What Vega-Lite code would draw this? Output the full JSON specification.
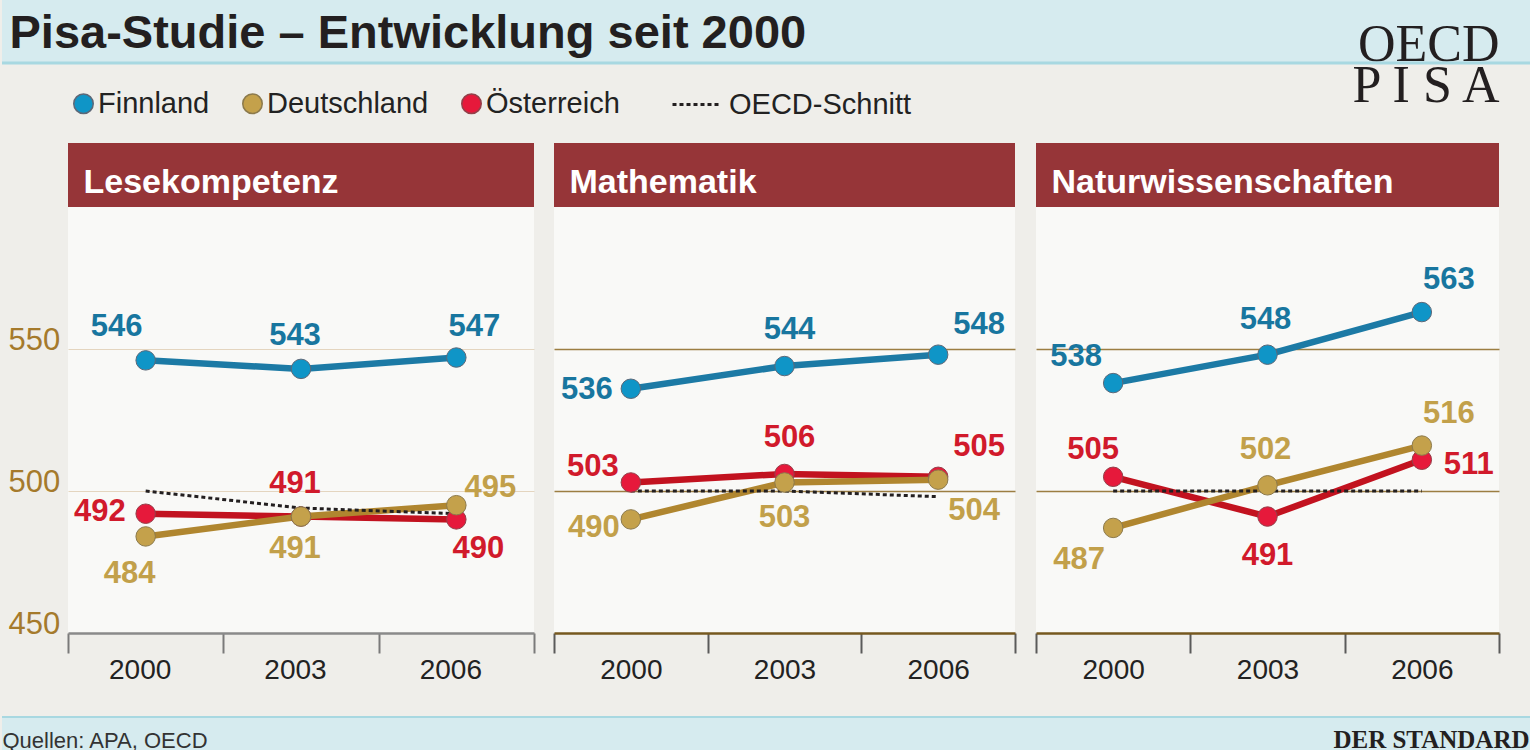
{
  "$schema": "https://vega.github.io/schema/vega-lite/v6.json",
  "background": "#efeeea",
  "padding": 0,
  "spacing": 0,
  "datasets": {
    "pisa": [
      {"Fach": "Lesekompetenz", "Serie": "Finnland", "Jahr": "2000", "Punkte": 546},
      {"Fach": "Lesekompetenz", "Serie": "Finnland", "Jahr": "2003", "Punkte": 543},
      {"Fach": "Lesekompetenz", "Serie": "Finnland", "Jahr": "2006", "Punkte": 547},
      {"Fach": "Lesekompetenz", "Serie": "Österreich", "Jahr": "2000", "Punkte": 492},
      {"Fach": "Lesekompetenz", "Serie": "Österreich", "Jahr": "2003", "Punkte": 491},
      {"Fach": "Lesekompetenz", "Serie": "Österreich", "Jahr": "2006", "Punkte": 490},
      {"Fach": "Lesekompetenz", "Serie": "Deutschland", "Jahr": "2000", "Punkte": 484},
      {"Fach": "Lesekompetenz", "Serie": "Deutschland", "Jahr": "2003", "Punkte": 491},
      {"Fach": "Lesekompetenz", "Serie": "Deutschland", "Jahr": "2006", "Punkte": 495},
      {"Fach": "Lesekompetenz", "Serie": "OECD-Schnitt", "Jahr": "2000", "Punkte": 500},
      {"Fach": "Lesekompetenz", "Serie": "OECD-Schnitt", "Jahr": "2003", "Punkte": 494},
      {"Fach": "Lesekompetenz", "Serie": "OECD-Schnitt", "Jahr": "2006", "Punkte": 492},
      {"Fach": "Mathematik", "Serie": "Finnland", "Jahr": "2000", "Punkte": 536},
      {"Fach": "Mathematik", "Serie": "Finnland", "Jahr": "2003", "Punkte": 544},
      {"Fach": "Mathematik", "Serie": "Finnland", "Jahr": "2006", "Punkte": 548},
      {"Fach": "Mathematik", "Serie": "Österreich", "Jahr": "2000", "Punkte": 503},
      {"Fach": "Mathematik", "Serie": "Österreich", "Jahr": "2003", "Punkte": 506},
      {"Fach": "Mathematik", "Serie": "Österreich", "Jahr": "2006", "Punkte": 505},
      {"Fach": "Mathematik", "Serie": "Deutschland", "Jahr": "2000", "Punkte": 490},
      {"Fach": "Mathematik", "Serie": "Deutschland", "Jahr": "2003", "Punkte": 503},
      {"Fach": "Mathematik", "Serie": "Deutschland", "Jahr": "2006", "Punkte": 504},
      {"Fach": "Mathematik", "Serie": "OECD-Schnitt", "Jahr": "2000", "Punkte": 500},
      {"Fach": "Mathematik", "Serie": "OECD-Schnitt", "Jahr": "2003", "Punkte": 500},
      {"Fach": "Mathematik", "Serie": "OECD-Schnitt", "Jahr": "2006", "Punkte": 498},
      {"Fach": "Naturwissenschaften", "Serie": "Finnland", "Jahr": "2000", "Punkte": 538},
      {"Fach": "Naturwissenschaften", "Serie": "Finnland", "Jahr": "2003", "Punkte": 548},
      {"Fach": "Naturwissenschaften", "Serie": "Finnland", "Jahr": "2006", "Punkte": 563},
      {"Fach": "Naturwissenschaften", "Serie": "Österreich", "Jahr": "2000", "Punkte": 505},
      {"Fach": "Naturwissenschaften", "Serie": "Österreich", "Jahr": "2003", "Punkte": 491},
      {"Fach": "Naturwissenschaften", "Serie": "Österreich", "Jahr": "2006", "Punkte": 511},
      {"Fach": "Naturwissenschaften", "Serie": "Deutschland", "Jahr": "2000", "Punkte": 487},
      {"Fach": "Naturwissenschaften", "Serie": "Deutschland", "Jahr": "2003", "Punkte": 502},
      {"Fach": "Naturwissenschaften", "Serie": "Deutschland", "Jahr": "2006", "Punkte": 516},
      {"Fach": "Naturwissenschaften", "Serie": "OECD-Schnitt", "Jahr": "2000", "Punkte": 500},
      {"Fach": "Naturwissenschaften", "Serie": "OECD-Schnitt", "Jahr": "2003", "Punkte": 500},
      {"Fach": "Naturwissenschaften", "Serie": "OECD-Schnitt", "Jahr": "2006", "Punkte": 500}
    ]
  },
  "vconcat": [
    {
      "width": 1530,
      "height": 63,
      "view": {"fill": "#d6ebef", "stroke": null},
      "data": {"values": [{}]},
      "layer": [
        {
          "mark": {"type": "rule", "color": "#a8d8e1", "strokeWidth": 3},
          "encoding": {
            "y": {"datum": 0, "type": "quantitative", "scale": {"domain": [0, 1]},
              "axis": {"orient": "right", "domain": false, "ticks": false, "labels": false, "grid": false,
                "title": ["OECD", "P I S A"], "titleAngle": 0, "titleAlign": "right", "titleBaseline": "alphabetic",
                "titleX": -33, "titleY": 60, "titleFont": "Liberation Serif", "titleFontSize": 52,
                "titleFontWeight": "normal", "titleColor": "#231f20", "titleLineHeight": 41}}
          }
        },
        {
          "mark": {"type": "text", "text": ""},
          "encoding": {
            "x": {"datum": 0, "type": "quantitative", "scale": {"domain": [0, 1]},
              "axis": {"orient": "top", "domain": false, "ticks": false, "labels": false, "grid": false,
                "title": "Pisa-Studie – Entwicklung seit 2000", "titleX": 7, "titleY": 47, "titleAlign": "left", "titleBaseline": "alphabetic",
                "titleFont": "Liberation Sans", "titleFontSize": 47, "titleFontWeight": "bold", "titleColor": "#231f20"}}
          }
        }
      ]
    },
    {
      "width": 1530,
      "height": 26,
      "data": {"values": [{}]},
      "mark": {"type": "text", "text": ""}
    },
    {
      "spacing": 0,
      "hconcat": [
        {
          "width": 1,
          "height": 1,
          "data": {"values": [{}]},
          "mark": {"type": "text", "text": ""}
        },
        {
          "spacing": 0,
          "bounds": "flush",
          "vconcat": [
            {
              "width": 466, "height": 64,
              "view": {"fill": "#963538", "stroke": null},
              "data": {"values": [{}]},
              "mark": {"type": "text", "text": ""},
              "encoding": {"x": {"datum": 0, "type": "quantitative", "scale": {"domain": [0, 1]},
                "axis": {"orient": "top", "domain": false, "ticks": false, "labels": false, "grid": false, "title": "Lesekompetenz", "titleX": 15, "titleY": 49, "titleAlign": "left", "titleBaseline": "alphabetic", "titleFont": "Liberation Sans", "titleFontSize": 34, "titleFontWeight": "bold", "titleColor": "#ffffff"}}}
            },
            {
              "width": 466, "height": 426,
              "view": {"fill": "#f9f9f7", "stroke": null},
              "data": {"name": "pisa"},
              "transform": [{"filter": "datum.Fach === 'Lesekompetenz'"}],
              "encoding": {
                "x": {"field": "Jahr", "type": "ordinal",
                  "scale": {"type": "band", "domain": ["2000", "2003", "2006"], "paddingInner": 0, "paddingOuter": 0},
                  "axis": {"title": null, "labelAngle": 0, "tickBand": "extent", "tickSize": 20, "tickColor": "#7a7a7a", "tickWidth": 2, "domainColor": "#8a8a8a", "domainWidth": 2.5, "labelFont": "Liberation Sans", "labelFontSize": 28, "labelColor": "#222222", "labelPadding": 3, "labelOffset": -6, "grid": false, "minExtent": 83, "maxExtent": 83}},
                "y": {"field": "Punkte", "type": "quantitative",
                  "scale": {"domain": [450, 600], "zero": false, "nice": false},
                  "axis": {"title": null, "values": [450, 500, 550], "domain": false, "ticks": false, "tickSize": 0, "grid": true, "gridColor": "#e4d5bf", "gridWidth": 1.2, "labelAlign": "left", "labelBaseline": "alphabetic", "labelPadding": 60, "labelFont": "Liberation Sans", "labelFontSize": 31, "labelColor": "#a57a2c", "minExtent": 65, "maxExtent": 65}}
              },
              "layer": [
                {"transform": [{"filter": "datum.Serie !== 'OECD-Schnitt'"}],
                  "mark": {"type": "line", "strokeWidth": 6.5, "strokeCap": "round"},
                  "encoding": {"color": {"field": "Serie", "type": "nominal", "scale": {"domain": ["Österreich", "Deutschland", "Finnland"], "range": ["#c2121f", "#b0862f", "#1c7aa5"]}, "legend": null}}},
                {"transform": [{"filter": "datum.Serie === 'OECD-Schnitt'"}],
                  "mark": {"type": "line", "color": "#231f20", "strokeWidth": 3},
                  "encoding": {"strokeDash": {"field": "Serie", "type": "nominal", "scale": {"domain": ["OECD-Schnitt"], "range": [[4, 3]]},
                    "legend": {"title": null, "orient": "none", "legendX": 669, "legendY": 79, "padding": 0, "symbolType": "stroke", "symbolSize": 2304,
                      "symbolStrokeWidth": 3, "symbolStrokeColor": "#231f20", "symbolDash": [3, 2],
                      "labelFont": "Liberation Sans", "labelFontSize": 29, "labelColor": "#222222", "labelOffset": 7, "labelLimit": 400}}}},
                {"transform": [{"filter": "datum.Serie !== 'OECD-Schnitt'"}],
                  "mark": {"type": "point", "filled": true, "size": 380, "opacity": 1, "strokeWidth": 1},
                  "encoding": {
                    "fill": {"field": "Serie", "type": "nominal",
                      "scale": {"domain": ["Finnland", "Deutschland", "Österreich"], "range": ["#0f95c7", "#c4a14b", "#e6193b"]},
                      "legend": {"title": null, "orient": "none", "legendX": 67, "legendY": 89, "direction": "horizontal", "padding": 0,
                        "symbolSize": 380, "symbolType": "circle", "labelFont": "Liberation Sans", "labelFontSize": 29, "labelColor": "#222222",
                        "labelOffset": 0, "columnPadding": 28, "labelLimit": 400}},
                    "stroke": {"field": "Serie", "type": "nominal",
                      "scale": {"domain": ["Finnland", "Deutschland", "Österreich"], "range": ["#5d6878", "#8c7a4c", "#94404a"]},
                      "legend": {"title": null, "orient": "none", "legendX": 67, "legendY": 89, "direction": "horizontal", "padding": 0,
                        "symbolSize": 380, "symbolType": "circle", "labelFont": "Liberation Sans", "labelFontSize": 29, "labelColor": "#222222",
                        "labelOffset": 0, "columnPadding": 28, "labelLimit": 400}}
                  }},
                {
                  "encoding": {
                    "text": {"field": "Punkte", "type": "quantitative"},
                    "color": {"condition": [{"test": "datum.Serie === 'Finnland'", "value": "#18769f"}, {"test": "datum.Serie === 'Deutschland'", "value": "#c2a04a"}], "value": "#d11a2b"}
                  },
                  "layer": [
                    {"transform": [{"filter": "datum.Serie === 'Finnland' && datum.Jahr === '2000'"}],
                      "mark": {"type": "text", "font": "Liberation Sans", "fontWeight": "bold", "fontSize": 31, "baseline": "middle", "dx": -29, "dy": -33}},
                    {"transform": [{"filter": "(datum.Serie === 'Finnland' || datum.Serie === 'Österreich') && datum.Jahr === '2003'"}],
                      "mark": {"type": "text", "font": "Liberation Sans", "fontWeight": "bold", "fontSize": 31, "baseline": "middle", "dx": -6, "dy": -33}},
                    {"transform": [{"filter": "datum.Serie === 'Finnland' && datum.Jahr === '2006'"}],
                      "mark": {"type": "text", "font": "Liberation Sans", "fontWeight": "bold", "fontSize": 31, "baseline": "middle", "dx": 18, "dy": -31}},
                    {"transform": [{"filter": "datum.Serie === 'Österreich' && datum.Jahr === '2000'"}],
                      "mark": {"type": "text", "font": "Liberation Sans", "fontWeight": "bold", "fontSize": 31, "baseline": "middle", "align": "right", "dx": -20, "dy": -2}},
                    {"transform": [{"filter": "datum.Serie === 'Österreich' && datum.Jahr === '2006'"}],
                      "mark": {"type": "text", "font": "Liberation Sans", "fontWeight": "bold", "fontSize": 31, "baseline": "middle", "dx": 22, "dy": 30}},
                    {"transform": [{"filter": "datum.Serie === 'Deutschland' && datum.Jahr === '2000'"}],
                      "mark": {"type": "text", "font": "Liberation Sans", "fontWeight": "bold", "fontSize": 31, "baseline": "middle", "dx": -16, "dy": 38}},
                    {"transform": [{"filter": "datum.Serie === 'Deutschland' && datum.Jahr === '2003'"}],
                      "mark": {"type": "text", "font": "Liberation Sans", "fontWeight": "bold", "fontSize": 31, "baseline": "middle", "dx": -6, "dy": 32}},
                    {"transform": [{"filter": "datum.Serie === 'Deutschland' && datum.Jahr === '2006'"}],
                      "mark": {"type": "text", "font": "Liberation Sans", "fontWeight": "bold", "fontSize": 31, "baseline": "middle", "dx": 34, "dy": -17}}
                  ]
                }
              ]
            }
          ]
        },
        {
          "spacing": 0,
          "bounds": "flush",
          "vconcat": [
            {
              "width": 461, "height": 64,
              "view": {"fill": "#963538", "stroke": null},
              "data": {"values": [{}]},
              "mark": {"type": "text", "text": ""},
              "encoding": {"x": {"datum": 0, "type": "quantitative", "scale": {"domain": [0, 1]},
                "axis": {"orient": "top", "domain": false, "ticks": false, "labels": false, "grid": false, "title": "Mathematik", "titleX": 15, "titleY": 49, "titleAlign": "left", "titleBaseline": "alphabetic", "titleFont": "Liberation Sans", "titleFontSize": 34, "titleFontWeight": "bold", "titleColor": "#ffffff"}}}
            },
            {
              "width": 461, "height": 426,
              "view": {"fill": "#f9f9f7", "stroke": null},
              "data": {"name": "pisa"},
              "transform": [{"filter": "datum.Fach === 'Mathematik'"}],
              "encoding": {
                "x": {"field": "Jahr", "type": "ordinal",
                  "scale": {"type": "band", "domain": ["2000", "2003", "2006"], "paddingInner": 0, "paddingOuter": 0},
                  "axis": {"title": null, "labelAngle": 0, "tickBand": "extent", "tickSize": 20, "tickColor": "#5a5a5a", "tickWidth": 2, "domainColor": "#76581f", "domainWidth": 2.5, "labelFont": "Liberation Sans", "labelFontSize": 28, "labelColor": "#222222", "labelPadding": 3, "grid": false, "minExtent": 83, "maxExtent": 83}},
                "y": {"field": "Punkte", "type": "quantitative",
                  "scale": {"domain": [450, 600], "zero": false, "nice": false},
                  "axis": {"title": null, "values": [500, 550], "domain": false, "ticks": false, "labels": false, "grid": true, "gridColor": "#9c7e42", "gridWidth": 1.3, "minExtent": 19, "maxExtent": 19}}
              },
              "layer": [
                {"transform": [{"filter": "datum.Serie !== 'OECD-Schnitt'"}],
                  "mark": {"type": "line", "strokeWidth": 6.5, "strokeCap": "round"},
                  "encoding": {"color": {"field": "Serie", "type": "nominal", "scale": {"domain": ["Österreich", "Deutschland", "Finnland"], "range": ["#c2121f", "#b0862f", "#1c7aa5"]}, "legend": null}}},
                {"transform": [{"filter": "datum.Serie === 'OECD-Schnitt'"}],
                  "mark": {"type": "line", "color": "#231f20", "strokeWidth": 3},
                  "encoding": {"strokeDash": {"field": "Serie", "type": "nominal", "scale": {"domain": ["OECD-Schnitt"], "range": [[4, 3]]}}}},
                {"transform": [{"filter": "datum.Serie !== 'OECD-Schnitt'"}],
                  "mark": {"type": "point", "filled": true, "size": 380, "opacity": 1, "strokeWidth": 1},
                  "encoding": {
                    "fill": {"field": "Serie", "type": "nominal",
                      "scale": {"domain": ["Finnland", "Deutschland", "Österreich"], "range": ["#0f95c7", "#c4a14b", "#e6193b"]}},
                    "stroke": {"field": "Serie", "type": "nominal",
                      "scale": {"domain": ["Finnland", "Deutschland", "Österreich"], "range": ["#5d6878", "#8c7a4c", "#94404a"]}}
                  }},
                {
                  "encoding": {
                    "text": {"field": "Punkte", "type": "quantitative"},
                    "color": {"condition": [{"test": "datum.Serie === 'Finnland'", "value": "#18769f"}, {"test": "datum.Serie === 'Deutschland'", "value": "#c2a04a"}], "value": "#d11a2b"}
                  },
                  "layer": [
                    {"transform": [{"filter": "datum.Serie === 'Finnland' && datum.Jahr === '2000'"}],
                      "mark": {"type": "text", "font": "Liberation Sans", "fontWeight": "bold", "fontSize": 31, "baseline": "middle", "align": "right", "dx": -18, "dy": 1}},
                    {"transform": [{"filter": "(datum.Serie === 'Finnland' || datum.Serie === 'Österreich') && datum.Jahr === '2003'"}],
                      "mark": {"type": "text", "font": "Liberation Sans", "fontWeight": "bold", "fontSize": 31, "baseline": "middle", "dx": 5, "dy": -36}},
                    {"transform": [{"filter": "(datum.Serie === 'Finnland' || datum.Serie === 'Österreich') && datum.Jahr === '2006'"}],
                      "mark": {"type": "text", "font": "Liberation Sans", "fontWeight": "bold", "fontSize": 31, "baseline": "middle", "dx": 41, "dy": -30}},
                    {"transform": [{"filter": "datum.Serie === 'Österreich' && datum.Jahr === '2000'"}],
                      "mark": {"type": "text", "font": "Liberation Sans", "fontWeight": "bold", "fontSize": 31, "baseline": "middle", "dx": -38, "dy": -15}},
                    {"transform": [{"filter": "datum.Serie === 'Deutschland' && datum.Jahr === '2000'"}],
                      "mark": {"type": "text", "font": "Liberation Sans", "fontWeight": "bold", "fontSize": 31, "baseline": "middle", "dx": -37, "dy": 9}},
                    {"transform": [{"filter": "datum.Serie === 'Deutschland' && datum.Jahr === '2003'"}],
                      "mark": {"type": "text", "font": "Liberation Sans", "fontWeight": "bold", "fontSize": 31, "baseline": "middle", "dx": 0, "dy": 36}},
                    {"transform": [{"filter": "datum.Serie === 'Deutschland' && datum.Jahr === '2006'"}],
                      "mark": {"type": "text", "font": "Liberation Sans", "fontWeight": "bold", "fontSize": 31, "baseline": "middle", "dx": 36, "dy": 31}}
                  ]
                }
              ]
            }
          ]
        },
        {
          "spacing": 0,
          "bounds": "flush",
          "vconcat": [
            {
              "width": 463, "height": 64,
              "view": {"fill": "#963538", "stroke": null},
              "data": {"values": [{}]},
              "mark": {"type": "text", "text": ""},
              "encoding": {"x": {"datum": 0, "type": "quantitative", "scale": {"domain": [0, 1]},
                "axis": {"orient": "top", "domain": false, "ticks": false, "labels": false, "grid": false, "title": "Naturwissenschaften", "titleX": 15, "titleY": 49, "titleAlign": "left", "titleBaseline": "alphabetic", "titleFont": "Liberation Sans", "titleFontSize": 34, "titleFontWeight": "bold", "titleColor": "#ffffff"}}}
            },
            {
              "width": 463, "height": 426,
              "view": {"fill": "#f9f9f7", "stroke": null},
              "data": {"name": "pisa"},
              "transform": [{"filter": "datum.Fach === 'Naturwissenschaften'"}],
              "encoding": {
                "x": {"field": "Jahr", "type": "ordinal",
                  "scale": {"type": "band", "domain": ["2000", "2003", "2006"], "paddingInner": 0, "paddingOuter": 0},
                  "axis": {"title": null, "labelAngle": 0, "tickBand": "extent", "tickSize": 20, "tickColor": "#5a5a5a", "tickWidth": 2, "domainColor": "#76581f", "domainWidth": 2.5, "labelFont": "Liberation Sans", "labelFontSize": 28, "labelColor": "#222222", "labelPadding": 3, "grid": false, "minExtent": 83, "maxExtent": 83}},
                "y": {"field": "Punkte", "type": "quantitative",
                  "scale": {"domain": [450, 600], "zero": false, "nice": false},
                  "axis": {"title": null, "values": [500, 550], "domain": false, "ticks": false, "labels": false, "grid": true, "gridColor": "#9c7e42", "gridWidth": 1.3, "minExtent": 20, "maxExtent": 20}}
              },
              "layer": [
                {"transform": [{"filter": "datum.Serie !== 'OECD-Schnitt'"}],
                  "mark": {"type": "line", "strokeWidth": 6.5, "strokeCap": "round"},
                  "encoding": {"color": {"field": "Serie", "type": "nominal", "scale": {"domain": ["Österreich", "Deutschland", "Finnland"], "range": ["#c2121f", "#b0862f", "#1c7aa5"]}, "legend": null}}},
                {"transform": [{"filter": "datum.Serie === 'OECD-Schnitt'"}],
                  "mark": {"type": "line", "color": "#231f20", "strokeWidth": 3},
                  "encoding": {"strokeDash": {"field": "Serie", "type": "nominal", "scale": {"domain": ["OECD-Schnitt"], "range": [[4, 3]]}}}},
                {"transform": [{"filter": "datum.Serie !== 'OECD-Schnitt'"}],
                  "mark": {"type": "point", "filled": true, "size": 380, "opacity": 1, "strokeWidth": 1},
                  "encoding": {
                    "fill": {"field": "Serie", "type": "nominal",
                      "scale": {"domain": ["Finnland", "Deutschland", "Österreich"], "range": ["#0f95c7", "#c4a14b", "#e6193b"]}},
                    "stroke": {"field": "Serie", "type": "nominal",
                      "scale": {"domain": ["Finnland", "Deutschland", "Österreich"], "range": ["#5d6878", "#8c7a4c", "#94404a"]}}
                  }},
                {
                  "encoding": {
                    "text": {"field": "Punkte", "type": "quantitative"},
                    "color": {"condition": [{"test": "datum.Serie === 'Finnland'", "value": "#18769f"}, {"test": "datum.Serie === 'Deutschland'", "value": "#c2a04a"}], "value": "#d11a2b"}
                  },
                  "layer": [
                    {"transform": [{"filter": "datum.Serie === 'Finnland' && datum.Jahr === '2000'"}],
                      "mark": {"type": "text", "font": "Liberation Sans", "fontWeight": "bold", "fontSize": 31, "baseline": "middle", "dx": -37, "dy": -26}},
                    {"transform": [{"filter": "(datum.Serie === 'Finnland' || datum.Serie === 'Deutschland') && datum.Jahr === '2003'"}],
                      "mark": {"type": "text", "font": "Liberation Sans", "fontWeight": "bold", "fontSize": 31, "baseline": "middle", "dx": -2, "dy": -35}},
                    {"transform": [{"filter": "(datum.Serie === 'Finnland' || datum.Serie === 'Deutschland') && datum.Jahr === '2006'"}],
                      "mark": {"type": "text", "font": "Liberation Sans", "fontWeight": "bold", "fontSize": 31, "baseline": "middle", "dx": 27, "dy": -32}},
                    {"transform": [{"filter": "datum.Serie === 'Österreich' && datum.Jahr === '2000'"}],
                      "mark": {"type": "text", "font": "Liberation Sans", "fontWeight": "bold", "fontSize": 31, "baseline": "middle", "dx": -20, "dy": -27}},
                    {"transform": [{"filter": "datum.Serie === 'Österreich' && datum.Jahr === '2003'"}],
                      "mark": {"type": "text", "font": "Liberation Sans", "fontWeight": "bold", "fontSize": 31, "baseline": "middle", "dx": 0, "dy": 39}},
                    {"transform": [{"filter": "datum.Serie === 'Österreich' && datum.Jahr === '2006'"}],
                      "mark": {"type": "text", "font": "Liberation Sans", "fontWeight": "bold", "fontSize": 31, "baseline": "middle", "align": "left", "dx": 22, "dy": 5}},
                    {"transform": [{"filter": "datum.Serie === 'Deutschland' && datum.Jahr === '2000'"}],
                      "mark": {"type": "text", "font": "Liberation Sans", "fontWeight": "bold", "fontSize": 31, "baseline": "middle", "dx": -34, "dy": 32}}
                  ]
                }
              ]
            }
          ]
        }
      ]
    },
    {
      "width": 1530,
      "height": 34,
      "view": {"fill": "#d6ebef", "stroke": null},
      "data": {"values": [{}]},
      "layer": [
        {
          "mark": {"type": "rule", "color": "#a8d8e1", "strokeWidth": 2},
          "encoding": {
            "y": {"datum": 1, "type": "quantitative", "scale": {"domain": [0, 1]},
              "axis": {"orient": "right", "domain": false, "ticks": false, "labels": false, "grid": false,
                "title": "DER STANDARD", "titleAngle": 0, "titleAlign": "right", "titleBaseline": "alphabetic",
                "titleX": -3, "titleY": 30, "titleFont": "Liberation Serif", "titleFontSize": 25,
                "titleFontWeight": "bold", "titleColor": "#231f20"}}
          }
        },
        {
          "mark": {"type": "text", "text": ""},
          "encoding": {
            "x": {"datum": 0, "type": "quantitative", "scale": {"domain": [0, 1]},
              "axis": {"orient": "top", "domain": false, "ticks": false, "labels": false, "grid": false,
                "title": "Quellen: APA, OECD", "titleX": 0, "titleY": 30, "titleAlign": "left", "titleBaseline": "alphabetic",
                "titleFont": "Liberation Sans", "titleFontSize": 22, "titleFontWeight": "normal", "titleColor": "#333333"}}
          }
        }
      ]
    }
  ],
  "config": {
    "view": {"stroke": null},
    "font": "Liberation Sans"
  }
}
